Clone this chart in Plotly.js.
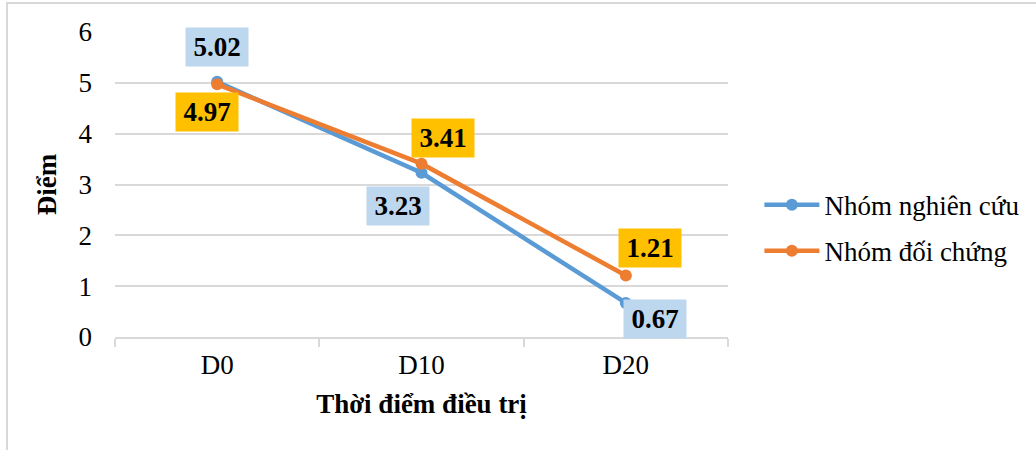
<!DOCTYPE html>
<html>
<head>
<meta charset="utf-8">
<script src="https://cdn.plot.ly/plotly-3.0.1.min.js"></script>
<style>
html,body{margin:0;padding:0;background:#fff;}
#wrap{position:relative;width:1036px;height:450px;overflow:hidden;}
#chart{width:1036px;height:450px;}
#frame{position:absolute;left:6px;top:2px;width:1100px;height:500px;border-top:2px solid #d9d9d9;border-left:2px solid #d9d9d9;pointer-events:none;}
</style>
</head>
<body>
<div id="wrap"><div id="chart"></div><div id="frame"></div></div>
<script>
const categories = ["D0", "D10", "D20"];
const seriesNames = ["Nhóm nghiên cứu", "Nhóm đối chứng"];
const studyValues = [5.02, 3.23, 0.67];
const controlValues = [4.97, 3.41, 1.21];
const yTicks = [0, 1, 2, 3, 4, 5, 6];

const FONT = "Liberation Serif";
const FS = 27;
const BLUE = "#5B9BD5", ORANGE = "#ED7D31";
const BLUE_BG = "#BDD7EE", ORANGE_BG = "#FFC000";

const traces = [
  {x: categories, y: studyValues, name: seriesNames[0], type: "scatter", mode: "lines+markers",
   legendgroup: "a",
   line: {color: BLUE, width: 4.5}, marker: {color: BLUE, size: 12}},
  {x: categories, y: controlValues, name: seriesNames[1], type: "scatter", mode: "lines+markers",
   legendgroup: "b",
   line: {color: ORANGE, width: 4.5}, marker: {color: ORANGE, size: 12}}
];

// label offsets (pixels) per point
const studyOffsets = [[0, -35], [-24, 33], [29, 16]];
const controlOffsets = [[-10, 28], [21, -26], [24, -27]];

const annotations = [];
function addLabels(vals, offs, bg) {
  vals.forEach((v, i) => {
    annotations.push({
      x: categories[i], y: v, xref: "x", yref: "y",
      text: "<b>" + v.toFixed(2) + "</b>",
      showarrow: true, arrowcolor: "rgba(0,0,0,0)", arrowwidth: 0.1,
      ax: offs[i][0], ay: offs[i][1],
      bgcolor: bg, width: 62, height: 38, borderpad: 0,
      font: {family: FONT, size: FS, color: "#000"}
    });
  });
}
addLabels(studyValues, studyOffsets, BLUE_BG);
addLabels(controlValues, controlOffsets, ORANGE_BG);

const layout = {
  width: 1036, height: 450,
  margin: {l: 115, r: 308, t: 32, b: 113},
  paper_bgcolor: "#fff", plot_bgcolor: "#fff",
  font: {family: FONT, size: FS, color: "#000"},
  showlegend: true,
  legend: {xref: "container", yref: "container", x: 0.733, xanchor: "left", y: 0.493, yanchor: "middle",
           font: {family: FONT, size: FS, color: "#000"}, itemwidth: 55,
           bgcolor: "rgba(0,0,0,0)", traceorder: "grouped", tracegroupgap: 8},
  xaxis: {
    type: "category", tickson: "boundaries", ticks: "outside", ticklen: 8,
    tickcolor: "#d9d9d9", tickwidth: 2, showline: true, linecolor: "#d9d9d9", linewidth: 2,
    showgrid: false, zeroline: false, range: [-0.5, 2.5],
    tickfont: {family: FONT, size: FS}, ticklabelstandoff: 3,
    title: {text: "<b>Thời điểm điều trị</b>", font: {family: FONT, size: FS}, standoff: 15}
  },
  yaxis: {
    range: [0, 6], tickvals: yTicks, ticktext: yTicks.map(String),
    showgrid: true, gridcolor: "#d9d9d9", gridwidth: 2, zeroline: false, showline: false,
    ticks: "", tickfont: {family: FONT, size: FS}, ticklabelstandoff: 22,
    title: {text: "<b>Điểm</b>", font: {family: FONT, size: FS}, standoff: 14}
  },
  annotations: annotations
};

Plotly.newPlot("chart", traces, layout, {displayModeBar: false, staticPlot: true});
</script>
</body>
</html>
